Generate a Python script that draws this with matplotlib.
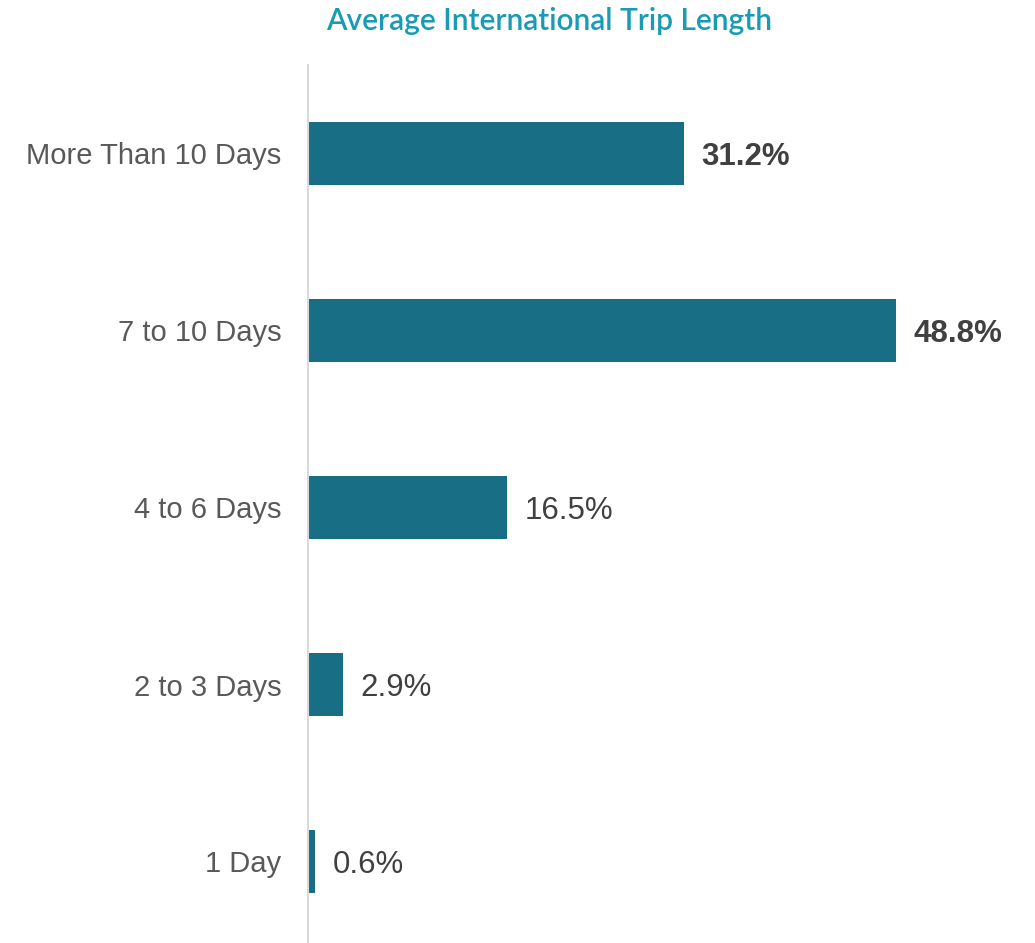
import matplotlib
matplotlib.use("Agg")
import matplotlib.pyplot as plt

categories = ["More Than 10 Days", "7 to 10 Days", "4 to 6 Days", "2 to 3 Days", "1 Day"]
values = [31.2, 48.8, 16.5, 2.9, 0.6]
value_labels = ["31.2%", "48.8%", "16.5%", "2.9%", "0.6%"]
bold_flags = [True, True, False, False, False]

BAR_COLOR = "#186e85"
TITLE_COLOR = "#1a9bb5"
CAT_COLOR = "#595959"
VAL_COLOR = "#404040"

W, H = 1035, 943
fig = plt.figure(figsize=(W / 100, H / 100), dpi=100)
ax = fig.add_axes([308 / W, 0, (1000 - 308) / W, (943 - 65) / H])

n = len(categories)
ypos = list(range(n - 1, -1, -1))
ax.barh(ypos, values, height=0.355, color=BAR_COLOR, zorder=2)

ax.set_xlim(0, 57.4)
ax.set_ylim(4.5 - 878 / 177, 4.5)

ax.set_yticks(ypos)
ax.set_yticklabels(categories, fontsize=21, color=CAT_COLOR, family="Liberation Sans")
ax.tick_params(axis="y", length=0, pad=19)
ax.set_xticks([])

for s in ["top", "right", "bottom"]:
    ax.spines[s].set_visible(False)
ax.spines["left"].set_color("#d9d9d9")
ax.spines["left"].set_linewidth(1.5)

for y, v, lab, b in zip(ypos, values, value_labels, bold_flags):
    ax.annotate(lab, xy=(v, y), xytext=(12.5, -2.2), textcoords="offset points",
                ha="left", va="center", fontsize=22.5, color=VAL_COLOR,
                fontweight="bold" if b else "normal", family="Liberation Sans")

fig.text(549 / W, 1 - 21 / H, "Average International Trip Length", ha="center", va="center",
         fontsize=21.5, color=TITLE_COLOR, family="Lato", fontweight="semibold")

fig.savefig("out.png", dpi=100)
